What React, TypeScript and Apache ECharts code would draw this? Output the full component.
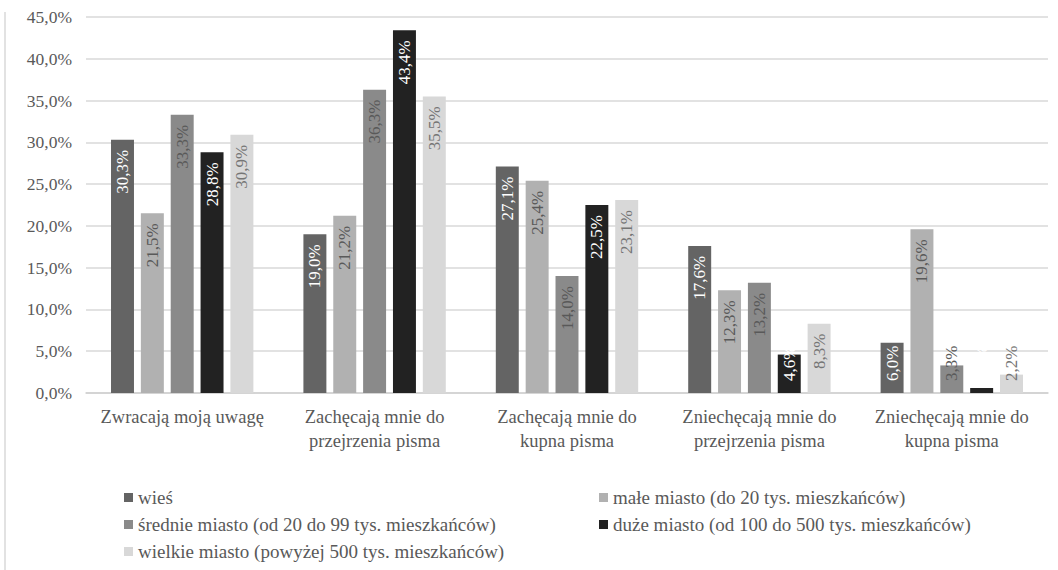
import React, { useEffect, useRef } from "react";
import * as echarts from "echarts";

const categories = [
  "Zwracają moją uwagę",
  "Zachęcają mnie do\nprzejrzenia pisma",
  "Zachęcają mnie do\nkupna pisma",
  "Zniechęcają mnie do\nprzejrzenia pisma",
  "Zniechęcają mnie do\nkupna pisma",
];

const seriesNames = [
  "wieś",
  "małe miasto (do 20 tys. mieszkańców)",
  "średnie miasto (od 20 do 99 tys. mieszkańców)",
  "duże miasto (od 100 do 500 tys. mieszkańców)",
  "wielkie miasto (powyżej 500 tys. mieszkańców)",
];

const wies = [30.3, 19.0, 27.1, 17.6, 6.0];
const maleMiasto = [21.5, 21.2, 25.4, 12.3, 19.6];
const srednieMiasto = [33.3, 36.3, 14.0, 13.2, 3.3];
const duzeMiasto = [28.8, 43.4, 22.5, 4.6, 0.6];
const wielkieMiasto = [30.9, 35.5, 23.1, 8.3, 2.2];

const barColors = ["#646464", "#b1b1b1", "#8a8a8a", "#222222", "#d8d8d8"];
const labelColors = ["#ffffff", "#595959", "#595959", "#ffffff", "#757575"];

const yTicks = { min: 0, max: 45, interval: 5 };

const FONT = "Liberation Serif";

const fmtPct = (v: number) => v.toFixed(1).replace(".", ",") + "%";

export default function App() {
  const ref = useRef<HTMLDivElement>(null);

  useEffect(() => {
    if (!ref.current) return;
    const chart = echarts.init(ref.current, undefined, { renderer: "svg" });

    const allValues = [wies, maleMiasto, srednieMiasto, duzeMiasto, wielkieMiasto];

    const series = allValues.map((vals, i) => ({
      name: seriesNames[i],
      type: "bar" as const,
      barGap: "30%",
      barCategoryGap: "26%",
      itemStyle: { color: barColors[i] },
      data: vals.map((v) => {
        // short bars carry their label from the base upward
        const short = v < 7;
        return {
          value: v,
          label: short
            ? { position: "insideBottom", align: "left", distance: 12 }
            : { position: "insideTop", align: "right", distance: 10 },
        };
      }),
      label: {
        show: true,
        rotate: 90,
        verticalAlign: "middle",
        color: labelColors[i],
        fontFamily: FONT,
        fontSize: 17,
        formatter: (p: any) => fmtPct(p.value),
      },
    }));

    const legendText = { fontFamily: FONT, fontSize: 19, color: "#595959" };

    chart.setOption({
      animation: false,
      backgroundColor: "#ffffff",
      textStyle: { fontFamily: FONT },
      grid: { left: 86, right: 10, top: 17, bottom: 177, containLabel: false },
      xAxis: {
        type: "category",
        data: categories,
        axisLine: { lineStyle: { color: "#d0d0d0", width: 1.5 } },
        axisTick: { show: false },
        axisLabel: {
          fontFamily: FONT,
          fontSize: 18.5,
          color: "#595959",
          lineHeight: 24,
          margin: 12,
          interval: 0,
        },
      },
      yAxis: {
        type: "value",
        min: yTicks.min,
        max: yTicks.max,
        interval: yTicks.interval,
        axisLine: { show: false },
        axisTick: { show: false },
        splitLine: { lineStyle: { color: "#d9d9d9", width: 1.5 } },
        axisLabel: {
          fontFamily: FONT,
          fontSize: 17.5,
          color: "#595959",
          margin: 14,
          formatter: (v: number) => fmtPct(v),
        },
      },
      legend: [
        {
          data: [seriesNames[0], seriesNames[2], seriesNames[4]],
          orient: "vertical",
          left: 119,
          top: 483,
          itemWidth: 9,
          itemHeight: 9,
          itemGap: 8,
          icon: "rect",
          selectedMode: false,
          textStyle: legendText,
        },
        {
          data: [seriesNames[1], seriesNames[3]],
          orient: "vertical",
          left: 594,
          top: 483,
          itemWidth: 9,
          itemHeight: 9,
          itemGap: 8,
          icon: "rect",
          selectedMode: false,
          textStyle: legendText,
        },
      ],
      graphic: [
        {
          type: "line",
          shape: { x1: 5, y1: 12, x2: 5, y2: 570 },
          style: { stroke: "#d9d9d9", lineWidth: 1.5 },
          silent: true,
        },
      ],
      series,
    });

    return () => chart.dispose();
  }, []);

  return (
    <div
      ref={ref}
      style={{ position: "fixed", left: 0, top: 0, width: 1058, height: 570, background: "#fff" }}
    />
  );
}
